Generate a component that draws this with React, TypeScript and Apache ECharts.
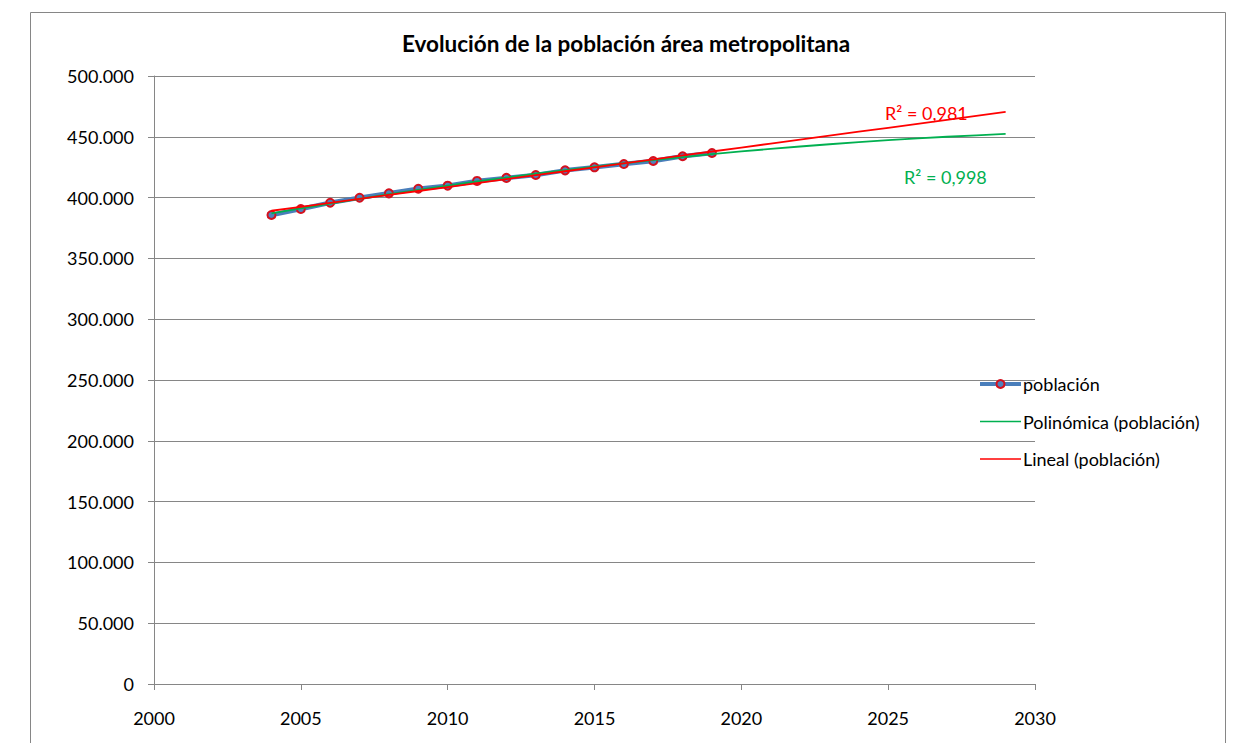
import { useEffect, useRef } from 'react';
import * as echarts from 'echarts';

const titleText = 'Evolución de la población área metropolitana';
const seriesNames = ['población', 'Polinómica (población)', 'Lineal (población)'];
const years = [2004, 2005, 2006, 2007, 2008, 2009, 2010, 2011, 2012, 2013, 2014, 2015, 2016, 2017, 2018, 2019];
const poblacion = [385700, 390600, 395800, 399900, 403500, 407300, 409800, 413700, 416200, 418600, 422400, 424900, 427600, 430100, 434000, 436700];
const trendYears = [2004, 2005, 2006, 2007, 2008, 2009, 2010, 2011, 2012, 2013, 2014, 2015, 2016, 2017, 2018, 2019, 2020, 2021, 2022, 2023, 2024, 2025, 2026, 2027, 2028, 2029];
const r2Lineal = 'R² = 0,981';
const r2Poli = 'R² = 0,998';
const xMin = 2000;
const xMax = 2030;
const xInterval = 5;
const yMin = 0;
const yMax = 500000;
const yInterval = 50000;

const FONT = 'Lato, Carlito, Calibri, sans-serif';

// least-squares linear fit
function linearFit(xs: number[], ys: number[]) {
  const n = xs.length;
  const mx = xs.reduce((a, b) => a + b, 0) / n;
  const my = ys.reduce((a, b) => a + b, 0) / n;
  let sxy = 0, sxx = 0;
  for (let i = 0; i < n; i++) {
    sxy += (xs[i] - mx) * (ys[i] - my);
    sxx += (xs[i] - mx) * (xs[i] - mx);
  }
  const b = sxy / sxx;
  return (x: number) => my + b * (x - mx);
}

// least-squares quadratic fit (order 2 polynomial trendline)
function quadFit(xs: number[], ys: number[]) {
  const n = xs.length;
  const mx = xs.reduce((a, b) => a + b, 0) / n;
  const t = xs.map((x) => x - mx);
  const S = [0, 0, 0, 0, 0];
  const T = [0, 0, 0];
  for (let i = 0; i < n; i++) {
    let p = 1;
    for (let k = 0; k < 5; k++) {
      S[k] += p;
      if (k < 3) T[k] += p * ys[i];
      p *= t[i];
    }
  }
  const M = [
    [S[0], S[1], S[2], T[0]],
    [S[1], S[2], S[3], T[1]],
    [S[2], S[3], S[4], T[2]],
  ];
  for (let c = 0; c < 3; c++) {
    for (let r = c + 1; r < 3; r++) {
      const f = M[r][c] / M[c][c];
      for (let k = c; k < 4; k++) M[r][k] -= f * M[c][k];
    }
  }
  const coef = [0, 0, 0];
  for (let r = 2; r >= 0; r--) {
    let s = M[r][3];
    for (let k = r + 1; k < 3; k++) s -= M[r][k] * coef[k];
    coef[r] = s / M[r][r];
  }
  return (x: number) => {
    const u = x - mx;
    return coef[0] + coef[1] * u + coef[2] * u * u;
  };
}

const fmtThousands = (v: number) => String(v).replace(/\B(?=(\d{3})+(?!\d))/g, '.');

export default function App() {
  const ref = useRef<HTMLDivElement>(null);

  useEffect(() => {
    if (!ref.current) return;
    const chart = echarts.init(ref.current, undefined, { renderer: 'svg' });
    const lin = linearFit(years, poblacion);
    const quad = quadFit(years, poblacion);
    const dataPts = years.map((y, i) => [y, poblacion[i]]);
    const linPts = trendYears.map((y) => [y, lin(y)]);
    const quadPts = trendYears.map((y) => [y, quad(y)]);

    chart.setOption({
      animation: false,
      backgroundColor: '#ffffff',
      textStyle: { fontFamily: FONT },
      title: {
        text: titleText,
        left: 626,
        textAlign: 'center',
        top: 32,
        padding: 0,
        textStyle: { fontFamily: FONT, fontSize: 22.5, fontWeight: 'bold', color: '#000' },
      },
      grid: { left: 154, top: 76, right: 201, bottom: 59, containLabel: false },
      legend: {
        orient: 'vertical',
        left: 978,
        top: 374,
        padding: 0,
        itemWidth: 41,
        itemHeight: 10,
        itemGap: 17.5,
        data: [
          { name: seriesNames[0], lineStyle: { width: 4 } },
          { name: seriesNames[1], itemStyle: { opacity: 0 }, lineStyle: { width: 1.5 } },
          { name: seriesNames[2], itemStyle: { opacity: 0 }, lineStyle: { width: 1.5 } },
        ],
        textStyle: { fontFamily: FONT, fontSize: 18, color: '#000', lineHeight: 20, padding: [0, 0, 0, -3] },
      },
      xAxis: {
        type: 'value',
        min: xMin,
        max: xMax,
        interval: xInterval,
        axisLine: { show: true, lineStyle: { color: '#868686', width: 1 } },
        axisTick: { show: true, length: 6, lineStyle: { color: '#868686' } },
        splitLine: { show: false },
        axisLabel: {
          formatter: (v: number) => String(v),
          fontFamily: FONT,
          fontSize: 18,
          color: '#000',
          margin: 25,
        },
      },
      yAxis: {
        type: 'value',
        min: yMin,
        max: yMax,
        interval: yInterval,
        axisLine: { show: true, lineStyle: { color: '#868686', width: 1 } },
        axisTick: { show: true, length: 6, lineStyle: { color: '#868686' } },
        splitLine: { show: true, lineStyle: { color: '#868686', width: 1 } },
        axisLabel: {
          formatter: (v: number) => fmtThousands(v),
          fontFamily: FONT,
          fontSize: 18,
          color: '#000',
          margin: 20,
        },
      },
      graphic: [
        {
          type: 'rect',
          shape: { x: 30.5, y: 12.5, width: 1195, height: 780 },
          style: { fill: 'none', stroke: '#868686', lineWidth: 1 },
          silent: true,
          z: -1,
        },
        {
          type: 'text',
          x: 885,
          y: 113,
          style: { text: r2Lineal, fill: '#FF0000', fontFamily: FONT, fontSize: 18, verticalAlign: 'middle' },
        },
        {
          type: 'text',
          x: 904,
          y: 177,
          style: { text: r2Poli, fill: '#00B050', fontFamily: FONT, fontSize: 18, verticalAlign: 'middle' },
        },
      ],
      series: [
        {
          name: seriesNames[0],
          type: 'line',
          data: dataPts,
          symbol: 'circle',
          symbolSize: 8,
          showSymbol: true,
          lineStyle: { color: '#4A7EBB', width: 4.5 },
          itemStyle: { color: '#4F81BD', borderColor: '#D4111E', borderWidth: 2 },
          z: 2,
        },
        {
          name: seriesNames[1],
          type: 'line',
          data: quadPts,
          symbol: 'none',
          lineStyle: { color: '#00B050', width: 1.8 },
          itemStyle: { color: '#00B050' },
          z: 3,
        },
        {
          name: seriesNames[2],
          type: 'line',
          data: linPts,
          symbol: 'none',
          lineStyle: { color: '#FF0000', width: 1.8 },
          itemStyle: { color: '#FF0000' },
          z: 4,
        },
      ],
    });
    return () => chart.dispose();
  }, []);

  return (
    <div
      ref={ref}
      style={{ position: 'fixed', left: 0, top: 0, width: 1236, height: 743, background: '#fff' }}
    />
  );
}
